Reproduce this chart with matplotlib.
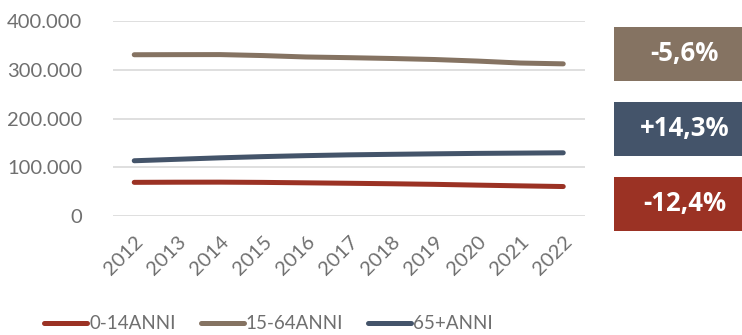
import matplotlib
matplotlib.use("Agg")
import matplotlib.pyplot as plt
from matplotlib.ticker import FuncFormatter

plt.rcParams['font.family'] = ['Lato', 'DejaVu Sans']

years = [2012, 2013, 2014, 2015, 2016, 2017, 2018, 2019, 2020, 2021, 2022]
age_0_14 = [69200, 69500, 69600, 69100, 68200, 67300, 66300, 65100, 63500, 62000, 60600]
age_15_64 = [331000, 331200, 331300, 329300, 326400, 325000, 323300, 321200, 318000, 314000, 312300]
age_65_plus = [113500, 116500, 119500, 122000, 124000, 125600, 126700, 127700, 128600, 129200, 129800]

series_labels = ["0-14ANNI", "15-64ANNI", "65+ANNI"]
changes = ["-5,6%", "+14,3%", "-12,4%"]

RED = "#9B3224"
BROWN = "#857362"
BLUE = "#44546A"
GREY_TXT = "#6F6F6F"

fig = plt.figure(figsize=(7.42, 3.35), dpi=100)
ax = fig.add_axes([0.152, 0.355, 0.636, 0.582])

for vals, col, lab in zip([age_0_14, age_15_64, age_65_plus], [RED, BROWN, BLUE], series_labels):
    ax.plot(years, vals, color=col, lw=3.6, solid_capstyle='round', label=lab)

ax.set_ylim(0, 400000)
ax.set_xlim(2011.5, 2022.5)
ax.set_yticks([0, 100000, 200000, 300000, 400000])
ax.yaxis.set_major_formatter(FuncFormatter(lambda v, p: f"{int(v):,}".replace(",", ".")))
ax.set_xticks(years)
ax.set_xticklabels([str(y) for y in years], rotation=45, ha='right', rotation_mode='anchor')
ax.grid(axis='y', color='#D9D9D9', lw=1.2)
ax.set_axisbelow(True)
for s in ax.spines.values():
    s.set_visible(False)
ax.tick_params(axis='both', length=0, labelsize=14.5, labelcolor=GREY_TXT)
ax.tick_params(axis='y', pad=22)
ax.tick_params(axis='x', pad=12)

# change badges on the right
box_colors = [BROWN, BLUE, RED]
box_tops = [26.7, 101.7, 176.7]
W, H = 742, 335
for txt, col, top in zip(changes, box_colors, box_tops):
    x0, x1 = 614 / W, 742 / W
    y1 = 1 - top / H
    y0 = 1 - (top + 54) / H
    fig.patches.append(plt.Rectangle((x0, y0), x1 - x0, y1 - y0, transform=fig.transFigure,
                                     facecolor=col, edgecolor='none'))
    fig.text((x0 + x1) / 2 + 0.009, (y0 + y1) / 2, txt, color='white', fontsize=18.5,
             fontweight='bold', family=['Open Sans', 'DejaVu Sans'], ha='center', va='center')

leg = fig.legend(loc='lower center', bbox_to_anchor=(0.362, -0.042), ncol=3, frameon=False,
                 fontsize=13.5, handlelength=2.3, handletextpad=0.12, columnspacing=1.3)
for t in leg.get_texts():
    t.set_color(GREY_TXT)

fig.savefig("out.png", dpi=100)
